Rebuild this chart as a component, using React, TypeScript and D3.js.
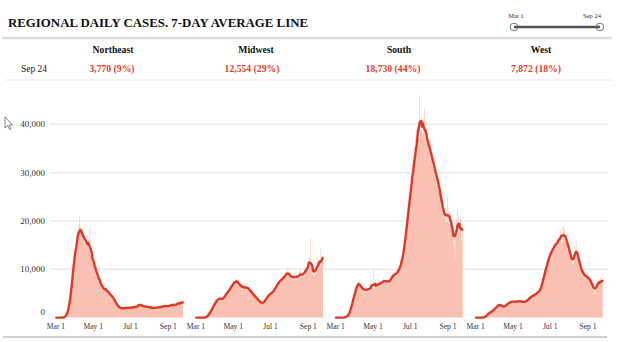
import React from 'react';
import * as d3 from 'd3';

const title = 'REGIONAL DAILY CASES. 7-DAY AVERAGE LINE';
const regions = ['Northeast', 'Midwest', 'South', 'West'];
const latestDate = 'Sep 24';
const latestValues = ['3,770 (9%)', '12,554 (29%)', '18,730 (44%)', '7,872 (18%)'];
const sliderLabels = ['Mar 1', 'Sep 24'];
const yTicks = [0, 10000, 20000, 30000, 40000];
const xTickLabels = ['Mar 1', 'May 1', 'Jul 1', 'Sep 1'];
const xTickDates = [Date.UTC(2020, 2, 1), Date.UTC(2020, 4, 1), Date.UTC(2020, 6, 1), Date.UTC(2020, 8, 1)];
const startDate = Date.UTC(2020, 2, 1);
const endDate = Date.UTC(2020, 8, 25);

// daily new cases, thousands, Mar 1 .. Sep 24 (one row per week)
const northeast = [
  0, 0, 0, 0, 0, 0, 0,
  0, 0, 0, 0, 0, 0, 0.1,
  0.1, 0.2, 0.3, 0.5, 0.8, 1.2, 1.9,
  2.3, 2.9, 3.8, 4.9, 5.8, 7.6, 9.3,
  10.2, 11.8, 12.3, 13.9, 14.1, 15.4, 16.5,
  15.2, 16.1, 19.1, 20.9, 17.6, 18.8, 16.4,
  17.9, 16.2, 18.1, 17.5, 15.3, 15.9, 16.4,
  14.8, 15.1, 17.2, 15.0, 14.1, 13.6, 18.7,
  13.1, 12.8, 14.2, 12.9, 11.4, 10.9, 12.1,
  9.8, 10.4, 10.9, 9.2, 8.1, 8.9, 8.6,
  7.5, 8.3, 7.6, 6.7, 7.3, 5.8, 6.2,
  5.6, 6.7, 6.1, 5.4, 5.9, 5.3, 6.6,
  5.2, 4.9, 5.6, 4.6, 5.3, 4.2, 4.8,
  4.0, 4.7, 4.5, 3.6, 4.1, 3.4, 3.2,
  2.8, 3.1, 2.4, 2.5, 2.2, 2.3, 1.9,
  1.8, 2.1, 2.0, 1.7, 2.0, 1.9, 2.1,
  1.8, 2.0, 1.9, 2.2, 2.1, 1.8, 2.0,
  1.9, 2.1, 2.2, 1.9, 2.3, 2.0, 2.1,
  2.0, 2.3, 2.1, 2.2, 2.4, 2.0, 2.3,
  2.2, 2.5, 2.3, 2.6, 3.2, 2.7, 2.4,
  2.5, 2.3, 2.6, 2.2, 2.4, 2.1, 2.4,
  2.2, 2.4, 2.1, 2.3, 2.2, 2.0, 2.3,
  2.0, 2.2, 2.1, 1.9, 2.1, 2.0, 1.9,
  2.1, 1.9, 2.0, 2.2, 2.0, 2.1, 2.2,
  2.0, 2.2, 2.1, 2.3, 2.2, 2.4, 2.1,
  2.3, 2.5, 2.2, 2.6, 2.3, 2.4, 2.5,
  2.3, 2.4, 2.2, 2.5, 2.3, 2.6, 2.7,
  2.5, 2.8, 2.4, 2.9, 2.6, 2.4, 2.7,
  2.5, 2.9, 2.7, 3.1, 2.6, 3.3, 2.9,
  3.0, 3.4, 2.7, 2.6, 3.77,
];

const midwest = [
  0, 0, 0, 0, 0, 0, 0,
  0, 0, 0, 0, 0, 0, 0,
  0, 0, 0.1, 0.1, 0.2, 0.3, 0.6,
  0.7, 0.9, 1.2, 1.0, 1.7, 2.0, 1.8,
  2.5, 2.2, 2.9, 3.3, 2.8, 3.6, 3.7,
  3.4, 4.1, 3.8, 4.3, 3.6, 3.9, 4.2,
  3.5, 4.0, 3.7, 4.2, 3.9, 4.6, 4.8,
  4.5, 5.3, 5.1, 5.6, 4.9, 6.0, 5.8,
  5.9, 6.6, 6.2, 7.3, 6.1, 7.6, 6.8,
  7.0, 8.2, 7.4, 7.9, 6.6, 7.5, 8.0,
  6.6, 7.2, 6.1, 6.9, 5.8, 6.8, 6.2,
  6.5, 6.0, 6.7, 5.9, 6.3, 5.8, 6.6,
  6.4, 5.7, 6.3, 5.6, 5.9, 5.2, 5.5,
  5.0, 5.4, 4.6, 5.0, 4.4, 4.5, 4.3,
  3.9, 4.3, 3.7, 3.9, 3.4, 3.6, 3.2,
  3.0, 3.4, 2.9, 3.0, 2.8, 3.2, 3.1,
  3.3, 3.8, 3.5, 4.2, 3.9, 4.6, 4.3,
  4.5, 5.1, 4.6, 5.4, 4.8, 5.2, 5.1,
  5.0, 5.9, 5.3, 6.4, 5.9, 6.8, 6.5,
  6.6, 7.5, 7.0, 7.8, 7.2, 8.0, 7.6,
  7.4, 8.6, 7.8, 8.5, 8.0, 8.9, 8.7,
  8.4, 9.6, 8.9, 10.4, 8.6, 9.3, 8.5,
  8.2, 9.0, 8.1, 8.8, 7.9, 8.7, 8.0,
  8.1, 9.2, 8.0, 8.9, 7.8, 8.6, 8.3,
  8.4, 9.5, 8.3, 10.1, 8.2, 9.4, 8.6,
  8.3, 9.2, 8.7, 10.8, 9.1, 10.2, 9.6,
  9.8, 11.2, 9.5, 12.4, 10.1, 16.5, 10.3,
  9.4, 10.6, 8.9, 10.2, 8.7, 9.9, 9.3,
  9.2, 10.9, 9.8, 12.3, 10.4, 11.8, 10.6,
  10.5, 14.3, 10.9, 11.7, 12.554,
];

const south = [
  0, 0, 0, 0, 0, 0, 0,
  0, 0, 0, 0, 0, 0, 0,
  0, 0, 0.1, 0.2, 0.2, 0.3, 0.5,
  0.6, 0.8, 1.1, 1.5, 2.1, 2.7, 3.3,
  3.9, 3.4, 4.6, 5.5, 4.8, 6.3, 6.9,
  6.2, 7.6, 6.5, 7.9, 6.4, 7.2, 6.1,
  5.4, 6.6, 5.8, 6.3, 5.2, 6.1, 5.5,
  5.3, 6.4, 5.6, 6.0, 5.2, 6.5, 5.8,
  5.5, 6.8, 6.0, 6.6, 5.7, 9.9, 6.1,
  5.9, 7.0, 6.4, 7.3, 6.2, 7.1, 6.6,
  6.5, 7.6, 6.8, 7.5, 6.4, 7.8, 7.0,
  6.8, 8.4, 7.2, 8.1, 7.3, 7.9, 7.1,
  6.9, 8.3, 7.0, 7.8, 7.2, 7.9, 7.6,
  7.8, 9.1, 8.2, 9.4, 8.3, 9.6, 8.5,
  8.4, 9.9, 8.7, 10.1, 8.9, 10.4, 9.5,
  9.6, 11.8, 10.5, 12.9, 11.4, 14.2, 12.8,
  13.6, 15.8, 16.1, 19.0, 18.4, 21.3, 20.7,
  21.0, 24.2, 23.9, 27.4, 25.6, 29.8, 28.1,
  28.4, 32.0, 33.1, 31.5, 33.9, 37.2, 34.8,
  35.1, 39.4, 37.0, 40.8, 45.9, 38.6, 41.2,
  38.9, 41.6, 37.4, 40.7, 38.2, 43.3, 37.5,
  36.8, 39.2, 35.9, 38.1, 35.2, 37.0, 34.4,
  32.6, 36.5, 33.4, 34.8, 31.2, 33.9, 30.6,
  29.4, 32.8, 30.1, 30.9, 27.2, 29.8, 27.5,
  26.3, 28.9, 26.0, 26.8, 23.5, 25.1, 22.4,
  21.6, 23.9, 20.8, 22.5, 19.7, 21.4, 20.3,
  19.8, 25.0, 19.6, 22.7, 18.9, 21.8, 19.5,
  18.7, 20.4, 17.1, 18.9, 15.0, 17.6, 12.1,
  16.9, 20.3, 17.5, 22.4, 18.1, 20.6, 17.7,
  18.6, 21.0, 17.3, 15.9, 18.73,
];

const west = [
  0, 0, 0, 0, 0, 0, 0,
  0, 0, 0, 0, 0, 0.1, 0,
  0.1, 0.1, 0.2, 0.3, 0.6, 0.5, 0.9,
  0.8, 1.0, 1.3, 0.9, 1.1, 1.4, 1.2,
  1.6, 1.3, 1.8, 2.1, 1.7, 2.2, 2.0,
  2.4, 2.7, 2.3, 2.9, 2.5, 2.8, 2.4,
  2.6, 2.4, 2.2, 2.5, 2.1, 2.3, 2.2,
  2.4, 2.7, 2.6, 3.1, 2.8, 3.3, 2.9,
  3.0, 3.4, 3.1, 3.6, 3.2, 3.5, 3.1,
  3.2, 3.5, 3.1, 3.6, 3.0, 3.4, 3.3,
  3.2, 3.7, 3.3, 3.6, 3.1, 3.5, 3.2,
  3.0, 3.4, 3.1, 3.5, 3.2, 3.4, 3.3,
  3.4, 3.9, 3.5, 4.1, 3.8, 4.4, 4.2,
  4.1, 4.7, 4.3, 4.9, 4.4, 4.8, 4.5,
  4.6, 5.5, 4.8, 5.3, 5.0, 5.8, 5.2,
  5.3, 6.1, 5.9, 7.2, 6.8, 8.4, 8.1,
  8.3, 9.8, 9.4, 11.0, 10.2, 11.8, 11.3,
  11.5, 13.6, 12.1, 13.8, 12.7, 14.4, 13.5,
  13.4, 15.5, 14.0, 15.6, 14.2, 16.1, 14.8,
  14.6, 16.5, 15.2, 16.8, 15.6, 18.2, 16.0,
  15.2, 18.6, 15.8, 19.1, 16.0, 18.4, 15.5,
  16.0, 17.6, 15.3, 16.2, 14.1, 15.0, 13.2,
  12.9, 14.1, 11.8, 12.6, 11.2, 11.5, 10.9,
  12.2, 14.5, 13.1, 15.8, 13.4, 14.2, 12.1,
  11.9, 12.6, 10.6, 11.3, 9.7, 10.5, 9.1,
  8.7, 9.8, 8.3, 9.4, 8.2, 9.0, 8.1,
  8.0, 9.2, 7.6, 8.8, 7.4, 8.3, 7.2,
  6.8, 7.9, 6.1, 7.0, 5.4, 6.3, 4.6,
  5.8, 7.2, 6.0, 7.6, 6.4, 7.8, 6.9,
  7.1, 8.4, 7.0, 7.3, 7.872,
];

const series = [northeast, midwest, south, west];

const DAY = 86400000;
const panelLeft = [56, 196, 335.7, 475.7];
const panelWidth = 127;
const nameX = [113, 256, 399, 541];
const valueX = [112, 252, 393, 536];

const SERIF = "'Liberation Serif', 'Times New Roman', serif";
const BAR = '#f9c0b4';
const LINE = '#dc3a25';
const RED = '#e4402a';

function rolling7(arr: number[]) {
  return arr.map((_, i) => d3.mean(arr.slice(Math.max(0, i - 3), Math.min(arr.length, i + 4))) as number);
}

export default function App() {
  const y = d3.scaleLinear().domain([0, 40000]).range([317.6, 124.3]);

  return (
    <svg width={620} height={342} style={{ position: 'fixed', left: 0, top: 0, background: '#fff' }} fontFamily={SERIF}>
      <rect x={0} y={0} width={620} height={342} fill="#fff" />
      {/* title */}
      <text x={8} y={27} fontSize={12.6} fontWeight="bold" fill="#111" textLength={300} lengthAdjust="spacingAndGlyphs">{title}</text>
      {/* slider */}
      <text x={516} y={17.5} fontSize={6.5} textAnchor="middle" fill="#333">{sliderLabels[0]}</text>
      <text x={592} y={17.5} fontSize={6.5} textAnchor="middle" fill="#333">{sliderLabels[1]}</text>
      <circle cx={514} cy={27} r={3.8} fill="#fff" stroke="#777" strokeWidth={1} />
      <circle cx={600} cy={27} r={3.8} fill="#fff" stroke="#777" strokeWidth={1} />
      <line x1={514} x2={600} y1={27} y2={27} stroke="#555" strokeWidth={2.6} />
      {/* header */}
      <line x1={2} x2={612} y1={38} y2={38} stroke="#dcdcdc" strokeWidth={2.5} />
      {regions.map((r, i) => (
        <text key={r} x={nameX[i]} y={53} fontSize={9.7} fontWeight="bold" textAnchor="middle" fill="#111">{r}</text>
      ))}
      <text x={34} y={72} fontSize={9.5} textAnchor="middle" fill="#222">{latestDate}</text>
      {latestValues.map((v, i) => (
        <text key={v} x={valueX[i]} y={72} fontSize={9.7} fontWeight="bold" textAnchor="middle" fill={RED}>{v}</text>
      ))}
      <line x1={5} x2={612} y1={80} y2={80} stroke="#e8e8e8" strokeWidth={1} />
      {/* cursor artifact */}
      <path d="M5,117 L5,128 L7.6,125.6 L9.6,129.6 L11,128.9 L9.1,125 L12.6,125 Z" fill="#fff" stroke="#666" strokeWidth={0.8} />
      {/* grid */}
      {yTicks.filter((t) => t > 0).map((t) => (
        <line key={t} x1={50} x2={608} y1={y(t)} y2={y(t)} stroke="#ebebeb" strokeWidth={1.5} />
      ))}
      {yTicks.map((t) => (
        <text key={t} x={45} y={t === 0 ? y(t) - 6 : y(t)} dy="0.35em" fontSize={9} textAnchor="end" fill="#333">
          {d3.format(',')(t)}
        </text>
      ))}
      {/* panels */}
      {series.map((vals, pi) => {
        const x = d3.scaleUtc().domain([startDate, endDate]).range([panelLeft[pi], panelLeft[pi] + panelWidth]);
        const pts = vals.map((v, i) => ({ t: startDate + i * DAY, v }));
        pts.push({ t: startDate + vals.length * DAY, v: vals[vals.length - 1] });
        const area = d3
          .area<{ t: number; v: number }>()
          .x((d) => x(d.t))
          .y0(y(0))
          .y1((d) => y(d.v * 1000))
          .curve(d3.curveStepAfter);
        const avg = rolling7(vals);
        const line = d3
          .line<number>()
          .x((_, i) => x(startDate + (i + 0.5) * DAY))
          .y((d) => y(d * 1000));
        return (
          <g key={pi}>
            <path d={area(pts) || ''} fill={BAR} />
            <path d={line(avg) || ''} fill="none" stroke={LINE} strokeWidth={2.4} strokeLinejoin="round" strokeLinecap="round" />
            {xTickDates.map((t, k) => (
              <text key={k} x={x(t)} y={329} fontSize={7.6} textAnchor="middle" fill="#333">{xTickLabels[k]}</text>
            ))}
          </g>
        );
      })}
      <line x1={3} x2={607} y1={337} y2={337} stroke="#d0d0d0" strokeWidth={2} />
    </svg>
  );
}
